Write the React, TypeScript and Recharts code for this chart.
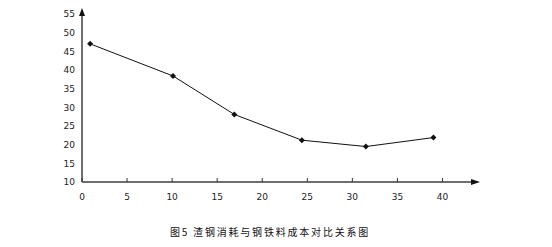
import React from 'react';
import { LineChart, Line, XAxis, YAxis } from 'recharts';

const xValues = [0.9, 10.1, 16.9, 24.4, 31.5, 39.0];
const costValues = [47.0, 38.4, 28.1, 21.2, 19.5, 21.9];
const xTicks = [0, 5, 10, 15, 20, 25, 30, 35, 40];
const yTicks = [10, 15, 20, 25, 30, 35, 40, 45, 50, 55];
const title = '图5 渣钢消耗与钢铁料成本对比关系图';

const data = xValues.map((x, i) => ({ x, cost: costValues[i] }));

const FONT = 'Tahoma, "DejaVu Sans", sans-serif';

const XTick = (props: any) => {
  const { x, y, payload } = props;
  return (
    <g>
      <line x1={x} x2={x} y1={y - 4} y2={y} stroke="#333" strokeWidth={1} />
      <text x={x} y={y + 18} textAnchor="middle" fontSize={9} fill="#222" fontFamily={FONT}>
        {payload.value}
      </text>
    </g>
  );
};

const XLabel = (props: any) => {
  const vb = props.viewBox || {};
  const ex = vb.x + vb.width;
  const ey = vb.y;
  return (
    <g>
      <polygon points={`${ex + 6},${ey} ${ex - 3},${ey - 3} ${ex - 3},${ey + 3}`} fill="#111" />
      <text
        x={270}
        y={236}
        textAnchor="middle"
        fontSize={10}
        letterSpacing={1.8}
        fill="#111"
        fontFamily='"Noto Sans CJK SC", sans-serif'
      >
        {title}
      </text>
    </g>
  );
};

const YLabel = (props: any) => {
  const vb = props.viewBox || {};
  const ax = vb.x + vb.width;
  const ay = vb.y;
  return <polygon points={`${ax},${ay - 6} ${ax - 3},${ay + 2} ${ax + 3},${ay + 2}`} fill="#111" />;
};

const Diamond = (props: any) => {
  const { cx, cy } = props;
  if (cx == null || cy == null) return null;
  const r = 3;
  return <polygon points={`${cx},${cy - r} ${cx + r},${cy} ${cx},${cy + r} ${cx - r},${cy}`} fill="#111" />;
};

export default function App() {
  return (
    <div style={{ position: 'absolute', left: 0, top: 0, width: 552, height: 247, background: '#fff' }}>
      <LineChart width={552} height={247} data={data} margin={{ top: 14, right: 78, bottom: 35, left: 0 }}>
        <XAxis
          dataKey="x"
          type="number"
          domain={[0, 43.5]}
          ticks={xTicks}
          interval={0}
          allowDataOverflow
          height={30}
          axisLine={{ stroke: '#6f6f6f', strokeWidth: 2 }}
          tickLine={false}
          tickSize={0}
          tickMargin={0}
          tick={<XTick />}
          label={XLabel}
        />
        <YAxis
          type="number"
          domain={[10, 55]}
          ticks={yTicks}
          interval={0}
          width={82}
          axisLine={{ stroke: '#6f6f6f', strokeWidth: 2 }}
          tickLine={false}
          tickSize={0}
          tickMargin={7}
          tick={{ fontSize: 9, fill: '#222', fontFamily: FONT }}
          label={YLabel}
        />
        <Line
          type="linear"
          dataKey="cost"
          stroke="#111"
          strokeWidth={1}
          dot={<Diamond />}
          activeDot={false}
          isAnimationActive={false}
        />
      </LineChart>
    </div>
  );
}
